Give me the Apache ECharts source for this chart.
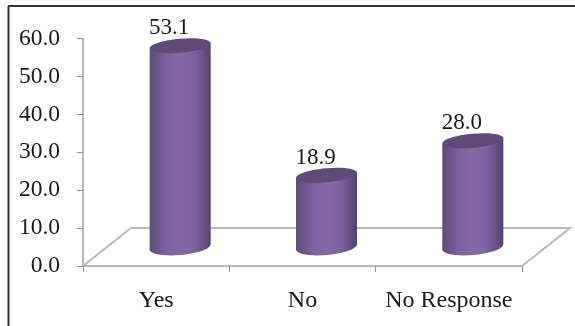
<!DOCTYPE html>
<html><head><meta charset="utf-8">
<style>html,body{margin:0;padding:0;background:#fff}#c{width:575px;height:326px}</style>
<script src="https://cdn.jsdelivr.net/npm/echarts@6/dist/echarts.min.js"></script></head>
<body><div id="c"></div>
<script>
const categories = ['Yes', 'No', 'No Response'];
const values = [53.1, 18.9, 28.0];

const depthX = 48, depthY = 38, rx = 30.5, ry = 7, tilt = 0.09, tiltDy = 3;
const F = '"Liberation Serif","Times New Roman",serif';
const grey = '#b9b9b9';
const bodyFill = { type:'linear', x:0, y:0, x2:1, y2:0, colorStops:[
  {offset:0,color:'#5d4a78'},{offset:0.25,color:'#7a609e'},{offset:0.5,color:'#8868a8'},
  {offset:0.75,color:'#7a609e'},{offset:1,color:'#54426c'}]};

function renderCyl(params, api){
  const p = api.coord([api.value(0), api.value(1)]);
  const b = api.coord([api.value(0), 0]);
  const cx = p[0] + depthX/2, top = p[1] - depthY/2, bot = b[1] - depthY/2;
  return {type:'group', children:[
    {type:'ellipse', shape:{cx:0,cy:0,rx,ry:ry+1}, x:cx, y:bot, rotation:tilt, style:{fill:bodyFill}},
    {type:'polygon', shape:{points:[[cx-rx,top+tiltDy],[cx+rx,top-tiltDy],[cx+rx,bot-tiltDy],[cx-rx,bot+tiltDy]]}, style:{fill:bodyFill}},
    {type:'ellipse', shape:{cx:0,cy:0,rx,ry}, x:cx, y:top, rotation:tilt, style:{fill:'#5f4b78'}},
    {type:'text', x:cx-11, y:top-ry+1, style:{text:values[params.dataIndex].toFixed(1), font:'23px '+F, fill:'#1a1a1a', align:'center', verticalAlign:'bottom'}}
  ]};
}
function renderFloor(params, api){
  const a = api.coord([0,0]), w = api.size([1,0])[0]*categories.length;
  const x0 = a[0]-api.size([1,0])[0]/2, y0 = a[1], x1 = x0+w;
  const st = {stroke:grey, lineWidth:2, fill:null};
  return {type:'group', children:[
    {type:'polyline', shape:{points:[[x0,y0],[x0+depthX,y0-depthY],[x1+depthX,y0-depthY],[x1,y0]]}, style:st}
  ]};
}
const chart = echarts.init(document.getElementById('c'), null, {renderer:'canvas'});
chart.setOption({
  animation:false, backgroundColor:'#fff',
  grid:{left:83, top:38.5, width:439, height:227.5, containLabel:false},
  xAxis:{type:'category', data:categories, boundaryGap:true,
    axisLine:{lineStyle:{color:grey,width:2}}, axisTick:{show:true,interval:0,alignWithLabel:false,length:6,lineStyle:{color:'#909090',width:1}},
    axisLabel:{interval:0, hideOverlap:false, fontFamily:F, fontSize:24, color:'#1a1a1a', margin:23}},
  yAxis:{type:'value', min:0, max:60, interval:10,
    axisLine:{show:true,lineStyle:{color:grey,width:2}}, axisTick:{show:true,length:6,lineStyle:{color:'#909090',width:1}},
    splitLine:{show:false},
    axisLabel:{fontFamily:F, fontSize:23.5, color:'#1a1a1a', margin:23, formatter:v=>v.toFixed(1)}},
  graphic:[
    {type:'line', shape:{x1:8.5,y1:6,x2:8.5,y2:326}, style:{stroke:'#333',lineWidth:2}, silent:true},
    {type:'line', shape:{x1:8,y1:6,x2:575,y2:6}, style:{stroke:'#333',lineWidth:2}, silent:true}
  ],
  series:[
    {type:'custom', renderItem:renderFloor, data:[[0,0]], z:1, clip:false},
    {type:'custom', renderItem:renderCyl, data:categories.map((c,i)=>[i,values[i]]), z:2, clip:false}
  ]
});
</script></body></html>
